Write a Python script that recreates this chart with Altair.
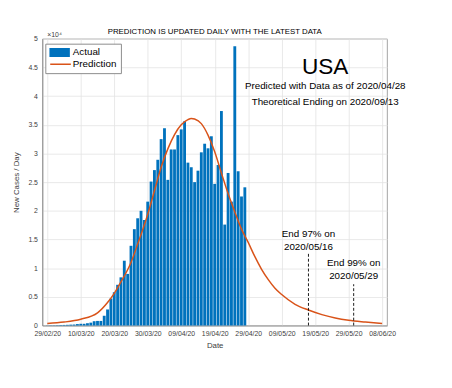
import altair as alt
import pandas as pd

# ---------------- data ----------------
first_day = "2020-02-29"
actual_cases = [30, 40, 50, 60, 80, 100, 120, 150, 170, 250, 300, 300, 400,
                500, 750, 800, 800, 1700, 2800, 4700, 5800, 7100, 8400, 11300,
                9000, 13900, 16800, 18700, 20000, 18400, 21600, 25100, 27100,
                28900, 32500, 34400, 25400, 30700, 30700, 33200, 34200, 35600,
                28400, 27600, 25000, 27000, 30200, 31700, 30900, 33000, 24700,
                28000, 37400, 17600, 26600, 21600, 48700, 26900, 22500, 24100]

pred_day_offsets = [0, 5, 10, 15, 18, 20, 22, 25, 27, 30, 32, 34, 36, 38, 40, 42,
                    43, 44, 46, 48, 50, 52, 54, 56, 58, 60, 62, 64, 66, 68, 70,
                    74, 78, 82, 86, 90, 95, 100]
pred_cases = [350, 600, 1100, 2200, 4000, 5600, 7600, 11000, 14200, 19400, 23500,
              27600, 30800, 33300, 35000, 35900, 36100, 36000, 35200, 33200, 30300,
              26600, 23000, 19800, 16800, 14500, 12000, 9800, 8000, 6500, 5400,
              3700, 2700, 1900, 1300, 900, 600, 350]

x_ticks = ["2020-02-29", "2020-03-10", "2020-03-20", "2020-03-30", "2020-04-09",
           "2020-04-19", "2020-04-29", "2020-05-09", "2020-05-19", "2020-05-29",
           "2020-06-08"]
y_ticks = [0, 5000, 10000, 15000, 20000, 25000, 30000, 35000, 40000, 45000, 50000]

end_marks = ["2020-05-17T00:00:00Z", "2020-05-30T12:00:00Z"]
end_tops = [12500, 7200]
end_label_lines = [["End 97% on", "2020/05/16"], ["End 99% on", "2020/05/29"]]
end_label_y = [[15900, 13750], [10900, 8700]]

country = "USA"
info_lines = ["Predicted with Data as of 2020/04/28", "Theoretical Ending on 2020/09/13"]
info_x = "2020-05-22T00:00:00Z"
country_y = 45100
info_y = [41700, 39050]

title_text = "PREDICTION IS UPDATED DAILY WITH THE LATEST DATA"
series_names = ["Actual", "Prediction"]
bar_color = "#0072BD"
line_color = "#D95319"

# ---------------- tables ----------------
start = pd.Timestamp(first_day)
bars_df = pd.DataFrame({
    "date": [(start + pd.Timedelta(days=i)).strftime("%Y-%m-%dT00:00:00Z")
             for i in range(len(actual_cases))],
    "cases": actual_cases,
    "series": series_names[0],
})
pred_df = pd.DataFrame({
    "date": [(start + pd.Timedelta(days=d)).strftime("%Y-%m-%dT00:00:00Z")
             for d in pred_day_offsets],
    "cases": pred_cases,
    "model": series_names[1],
})
rules_df = pd.DataFrame({"date": end_marks, "y0": [0, 0], "top": end_tops})
end_text_df = pd.DataFrame({
    "date": [end_marks[i] for i in range(2) for _ in range(2)],
    "y": [end_label_y[i][j] for i in range(2) for j in range(2)],
    "text": [end_label_lines[i][j] for i in range(2) for j in range(2)],
})
info_df = pd.DataFrame({"date": [info_x, info_x], "y": info_y, "text": info_lines})
country_df = pd.DataFrame({"date": [info_x], "y": [country_y], "text": [country]})
exp_df = pd.DataFrame({"date": [first_day + "T00:00:00Z"], "y": [y_ticks[-1]],
                       "text": ["\u00d710\u2074"]})


def dt(s):
    t = pd.Timestamp(s)
    return alt.DateTime(year=t.year, month=t.month, date=t.day, utc=True)


FONT = "Liberation Sans"
x_scale = alt.Scale(type="utc", domain=[dt(x_ticks[0]), dt(x_ticks[-1])], nice=False)
y_scale = alt.Scale(domain=[y_ticks[0], y_ticks[-1]], nice=False, zero=True)

legend_common = dict(
    title=None, orient="none", legendX=3, legendY=5, direction="vertical",
    labelFont=FONT, labelFontSize=10,
    symbolSize=441, clipHeight=10, rowPadding=2, labelOffset=3, padding=4,
)
fill_legend = alt.Legend(
    labelColor="#000000", symbolType="M-1,-0.43H1V0.43H-1Z", symbolStrokeWidth=0,
    strokeColor="#8c8c8c", fillColor="#ffffff", symbolOpacity=1, **legend_common)
stroke_legend = alt.Legend(
    labelColor="transparent", labelExpr="''", symbolType="stroke", symbolStrokeWidth=1.5,
    symbolOpacity=1, **legend_common)

x_enc = alt.X("date:T", scale=x_scale,
              axis=alt.Axis(values=[dt(v) for v in x_ticks], tickCount=len(x_ticks),
                            format="%d/%m/%y",
                            title="Date", labelPadding=4, titlePadding=5,
                            labelOverlap=False, labelFlush=False))
y_enc = alt.Y("cases:Q", scale=y_scale,
              axis=alt.Axis(values=y_ticks, tickCount=len(y_ticks),
                            labelExpr="datum.value / 10000",
                            labelOverlap=False,
                            title="New Cases / Day", labelPadding=5, titlePadding=8))

bars = alt.Chart(bars_df).mark_bar(size=2.9).encode(
    x=x_enc, y=y_enc,
    fill=alt.Fill("series:N", legend=fill_legend,
                  scale=alt.Scale(domain=series_names, range=[bar_color, "transparent"])),
)
line = alt.Chart(pred_df).mark_line(strokeWidth=1.5, interpolate="monotone").encode(
    x="date:T", y="cases:Q",
    stroke=alt.Stroke("model:N", legend=stroke_legend,
                      scale=alt.Scale(domain=[" ", series_names[1]],
                                      range=["transparent", line_color])),
)
rules = alt.Chart(rules_df).mark_rule(color="#000000", strokeDash=[3, 2], strokeWidth=0.9).encode(
    x="date:T", y="y0:Q", y2="top:Q")
end_text = alt.Chart(end_text_df).mark_text(font=FONT, fontSize=10, color="#000000",
                                            align="center", baseline="middle").encode(
    x="date:T", y="y:Q", text="text:N")
info_text = alt.Chart(info_df).mark_text(font=FONT, fontSize=10, color="#000000",
                                         align="center", baseline="middle").encode(
    x="date:T", y="y:Q", text="text:N")
country_text = alt.Chart(country_df).mark_text(font=FONT, fontSize=23, color="#000000",
                                               align="center", baseline="middle").encode(
    x="date:T", y="y:Q", text="text:N")
exp_text = alt.Chart(exp_df).mark_text(font=FONT, fontSize=7, color="#404040",
                                       align="left", baseline="bottom", dy=-1).encode(
    x="date:T", y="y:Q", text="text:N")

chart = alt.layer(bars, line, rules, end_text, info_text, country_text, exp_text).properties(
    width=351, height=292,
    title=alt.TitleParams(title_text, font=FONT, fontSize=8, fontWeight="normal",
                          color="#000000", offset=4, anchor="middle", frame="group", dy=9),
    autosize=alt.AutoSizeParams(type="none"),
    padding={"left": 35, "top": 28, "right": 58, "bottom": 44},
).configure_axis(
    labelFont=FONT, labelFontSize=7, labelColor="#404040",
    titleFont=FONT, titleFontSize=8, titleFontWeight="normal", titleColor="#404040",
    grid=True, gridColor="#e3e3e3", gridWidth=0.8,
    domainColor="#8c8c8c", domainWidth=0.8, ticks=False,
).configure_view(stroke="#8c8c8c", strokeWidth=0.8)

chart.save("out.html", embed_options={"renderer": "svg", "actions": False})
